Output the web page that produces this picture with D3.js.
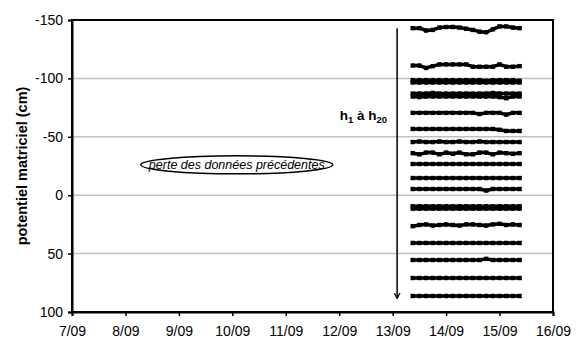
<!DOCTYPE html>
<html>
<head>
<meta charset="utf-8">
<script src="https://cdn.jsdelivr.net/npm/d3@7"></script>
<style>
  body { margin: 0; background: #fff; }
  svg { display: block; font-family: "Liberation Sans", Arial, sans-serif; }
</style>
</head>
<body>
<svg width="580" height="345"></svg>
<script>
// sampling times (every 3 hours), 13/09 09:00 -> 15/09 09:00
var times = [
  "2003-09-13T09:00", "2003-09-13T12:00", "2003-09-13T15:00", "2003-09-13T18:00",
  "2003-09-13T21:00", "2003-09-14T00:00", "2003-09-14T03:00", "2003-09-14T06:00",
  "2003-09-14T09:00", "2003-09-14T12:00", "2003-09-14T15:00", "2003-09-14T18:00",
  "2003-09-14T21:00", "2003-09-15T00:00", "2003-09-15T03:00", "2003-09-15T06:00",
  "2003-09-15T09:00"
];

var seriesNames = ["h1","h2","h3","h4","h5","h6","h7","h8","h9","h10",
                   "h11","h12","h13","h14","h15","h16","h17","h18","h19","h20"];

var h1  = [-143,-143,-141,-141.5,-143.5,-144,-144,-143.5,-142.5,-141.5,-140,-139.5,-142,-144.5,-144.5,-143.5,-143];
var h2  = [-111,-111,-109,-110.5,-112,-112,-112,-112,-112,-110,-110,-110,-110,-112,-110,-110,-110.5];
var h3  = [-98.5,-98.5,-98.5,-98.5,-98.5,-98.5,-98.5,-98.5,-98.5,-98.5,-98.5,-98,-98.5,-98.5,-98.5,-98.5,-98];
var h4  = [-96.5,-96.5,-96.5,-96.5,-96.5,-96.5,-96.5,-96.5,-96.5,-96.5,-96.5,-96.5,-96.5,-96.5,-96.5,-96.5,-96.5];
var h5  = [-87,-87,-87,-87.5,-87,-87,-87,-87,-87,-87,-87,-87,-87.5,-87,-87,-87,-87];
var h6  = [-84.5,-84,-84.5,-84.5,-84.5,-84.5,-84.5,-84.5,-84.5,-84.5,-84.5,-84.5,-84.5,-84,-83,-84.5,-84.5];
var h7  = [-70.5,-70.5,-70.5,-70.5,-70.5,-70.5,-70.5,-70.5,-70.5,-70.5,-69.5,-70.5,-70.5,-70.5,-69,-70.5,-70.5];
var h8  = [-56.7,-56.7,-56.7,-56.7,-56.7,-56.7,-56.7,-56.7,-56.7,-56.7,-56.7,-56.7,-56.7,-56,-55,-55,-55];
var h9  = [-45.5,-46,-45.5,-45.5,-46,-45.5,-45.5,-46,-45.5,-45.5,-46,-45.5,-45.5,-45.5,-45.5,-45.5,-45.5];
var h10 = [-36,-35,-36.5,-36.5,-35,-36.5,-35.5,-36.5,-35,-35,-36.5,-36.5,-35,-36.5,-36,-35.5,-36];
var h11 = [-26.7,-26.7,-26.7,-26.7,-26.7,-26.7,-26.7,-26.7,-26.7,-26.7,-26.7,-26.7,-26.7,-26.7,-26.7,-26.7,-26.7];
var h12 = [-14.7,-14.7,-14.7,-14.7,-14.7,-14.7,-14.7,-14.7,-14.7,-14.7,-14.7,-14.7,-14.7,-14.7,-14.7,-14.7,-14.7];
var h13 = [-5.3,-5.3,-5.3,-5.3,-5.3,-5.3,-5.3,-5.3,-5.3,-5.3,-5.3,-4,-5.3,-5.3,-5.3,-5.3,-5.3];
var h14 = [9.5,9.5,9.5,9.5,9.5,9.5,9.5,9.5,9.5,9.5,9.5,9.5,9.5,9.5,9.5,9.5,9.5];
var h15 = [11.5,11.5,11.5,11.5,11.5,11.5,11.5,11.5,11.5,11.5,11.5,11.5,11.5,11.5,11.5,11.5,11.5];
var h16 = [26.5,25.5,25,26,25.5,25,25.5,26,25,25,25.5,26,25,24.5,25.5,25,25.5];
var h17 = [40.9,40.9,40.9,40.9,40.9,40.9,40.9,40.9,40.9,40.9,40.9,40.9,40.9,40.9,40.9,40.9,40.9];
var h18 = [55.5,55.5,55.5,55.5,55.5,55.5,55.5,55.5,55.5,55.5,55.5,54.5,55.5,55.5,55.5,55.5,55.5];
var h19 = [70.9,70.9,70.9,70.9,70.9,70.9,70.9,70.9,70.9,70.9,70.9,70.9,70.9,70.9,70.9,70.9,70.9];
var h20 = [86.3,86.3,86.3,86.3,86.3,86.3,86.3,86.3,86.3,86.3,86.3,86.3,86.3,86.3,86.3,86.3,86.3];

var allSeries = [h1,h2,h3,h4,h5,h6,h7,h8,h9,h10,h11,h12,h13,h14,h15,h16,h17,h18,h19,h20];

var yTicks = [-150, -100, -50, 0, 50, 100];
var gridValues = [-100, -50, 0, 50];

var width = 580;
var height = 345;
var margin = {left: 72, top: 20, right: 27, bottom: 33};

var parseTime = d3.timeParse("%Y-%m-%dT%H:%M");
var x = d3.scaleTime()
  .domain([new Date(2003, 8, 7), new Date(2003, 8, 16)])
  .range([margin.left, width - margin.right]);
var y = d3.scaleLinear()
  .domain([-150, 100])
  .range([margin.top, height - margin.bottom]);

var svg = d3.select("svg");

// grid lines
svg.selectAll("line.grid")
  .data(gridValues)
  .enter()
  .append("line")
  .attr("class", "grid")
  .attr("x1", margin.left)
  .attr("x2", width - margin.right)
  .attr("y1", function (d) { return y(d); })
  .attr("y2", function (d) { return y(d); })
  .attr("stroke", "#c0c0c0")
  .attr("stroke-width", 1.5);

// plot frame
svg.append("rect")
  .attr("x", margin.left)
  .attr("y", margin.top)
  .attr("width", width - margin.right - margin.left)
  .attr("height", height - margin.bottom - margin.top)
  .attr("fill", "none")
  .attr("stroke", "#000")
  .attr("stroke-width", 2);

// series
var line = d3.line()
  .x(function (d, i) { return x(parseTime(times[i])); })
  .y(function (d) { return y(d); });

var seriesG = svg.selectAll("g.series")
  .data(allSeries)
  .enter()
  .append("g")
  .attr("class", "series")
  .attr("id", function (d, i) { return seriesNames[i]; });

seriesG.append("path")
  .attr("d", line)
  .attr("fill", "none")
  .attr("stroke", "#000")
  .attr("stroke-width", 3.5)
  .attr("stroke-linejoin", "round");

seriesG.selectAll("rect")
  .data(function (d) { return d; })
  .enter()
  .append("rect")
  .attr("x", function (d, i) { return x(parseTime(times[i])) - 2.2; })
  .attr("y", function (d) { return y(d) - 2.2; })
  .attr("width", 4.4)
  .attr("height", 4.4)
  .attr("fill", "#000");

// axes
var axisLeft = d3.axisLeft(y)
  .tickValues(yTicks)
  .tickSize(4)
  .tickPadding(5)
  .tickFormat(function (d) { return String(d); });

var axisBottom = d3.axisBottom(x)
  .ticks(d3.timeDay.every(1))
  .tickSize(4)
  .tickPadding(10)
  .tickFormat(d3.timeFormat("%-d/%m"));

var gy = svg.append("g")
  .attr("transform", "translate(" + margin.left + ",0)")
  .call(axisLeft);

var gx = svg.append("g")
  .attr("transform", "translate(0," + (height - margin.bottom) + ")")
  .call(axisBottom);

[gx, gy].forEach(function (g) {
  g.select(".domain").attr("stroke", "#000").attr("stroke-width", 2);
  g.selectAll(".tick line").attr("stroke", "#000").attr("stroke-width", 1.5);
  g.selectAll(".tick text")
    .attr("fill", "#000")
    .style("font-size", "14px")
    .style("font-family", "Liberation Sans, Arial, sans-serif");
});

// text label for the y axis
svg.append("text")
  .attr("transform", "rotate(-90)")
  .attr("x", -166)
  .attr("y", 27)
  .style("text-anchor", "middle")
  .style("font-size", "14.5px")
  .style("font-weight", "bold")
  .text("potentiel matriciel (cm)");

// annotation: lost data
var noteX = x(new Date(2003, 8, 10, 2));
var noteY = y(-26);
svg.append("ellipse")
  .attr("cx", noteX)
  .attr("cy", noteY)
  .attr("rx", 96)
  .attr("ry", 9)
  .attr("fill", "#fff")
  .attr("stroke", "#000")
  .attr("stroke-width", 1.5);

svg.append("text")
  .attr("x", noteX)
  .attr("y", noteY + 4.5)
  .style("text-anchor", "middle")
  .style("font-size", "12.5px")
  .style("font-style", "italic")
  .text("perte des données précédentes");

// arrow h1 -> h20
svg.append("defs").append("marker")
  .attr("id", "arrow")
  .attr("viewBox", "0 0 10 10")
  .attr("refX", 9)
  .attr("refY", 5)
  .attr("markerWidth", 6)
  .attr("markerHeight", 8)
  .attr("markerUnits", "userSpaceOnUse")
  .attr("orient", "auto")
  .append("path")
  .attr("d", "M0,0 L10,5 L0,10")
  .attr("fill", "none")
  .attr("stroke", "#000")
  .attr("stroke-width", 2);

var arrowX = x(new Date(2003, 8, 13, 2));
svg.append("line")
  .attr("x1", arrowX)
  .attr("x2", arrowX)
  .attr("y1", y(-143))
  .attr("y2", y(88))
  .attr("stroke", "#000")
  .attr("stroke-width", 1.5)
  .attr("marker-end", "url(#arrow)");

var hLabel = svg.append("text")
  .attr("x", arrowX - 10)
  .attr("y", y(-64))
  .style("text-anchor", "end")
  .style("font-size", "13.5px")
  .style("font-weight", "bold");
hLabel.append("tspan").text("h");
hLabel.append("tspan").attr("dy", 3).style("font-size", "9.5px").text("1");
hLabel.append("tspan").attr("dy", -3).text(" à h");
hLabel.append("tspan").attr("dy", 3).style("font-size", "9.5px").text("20");
</script>
</body>
</html>
